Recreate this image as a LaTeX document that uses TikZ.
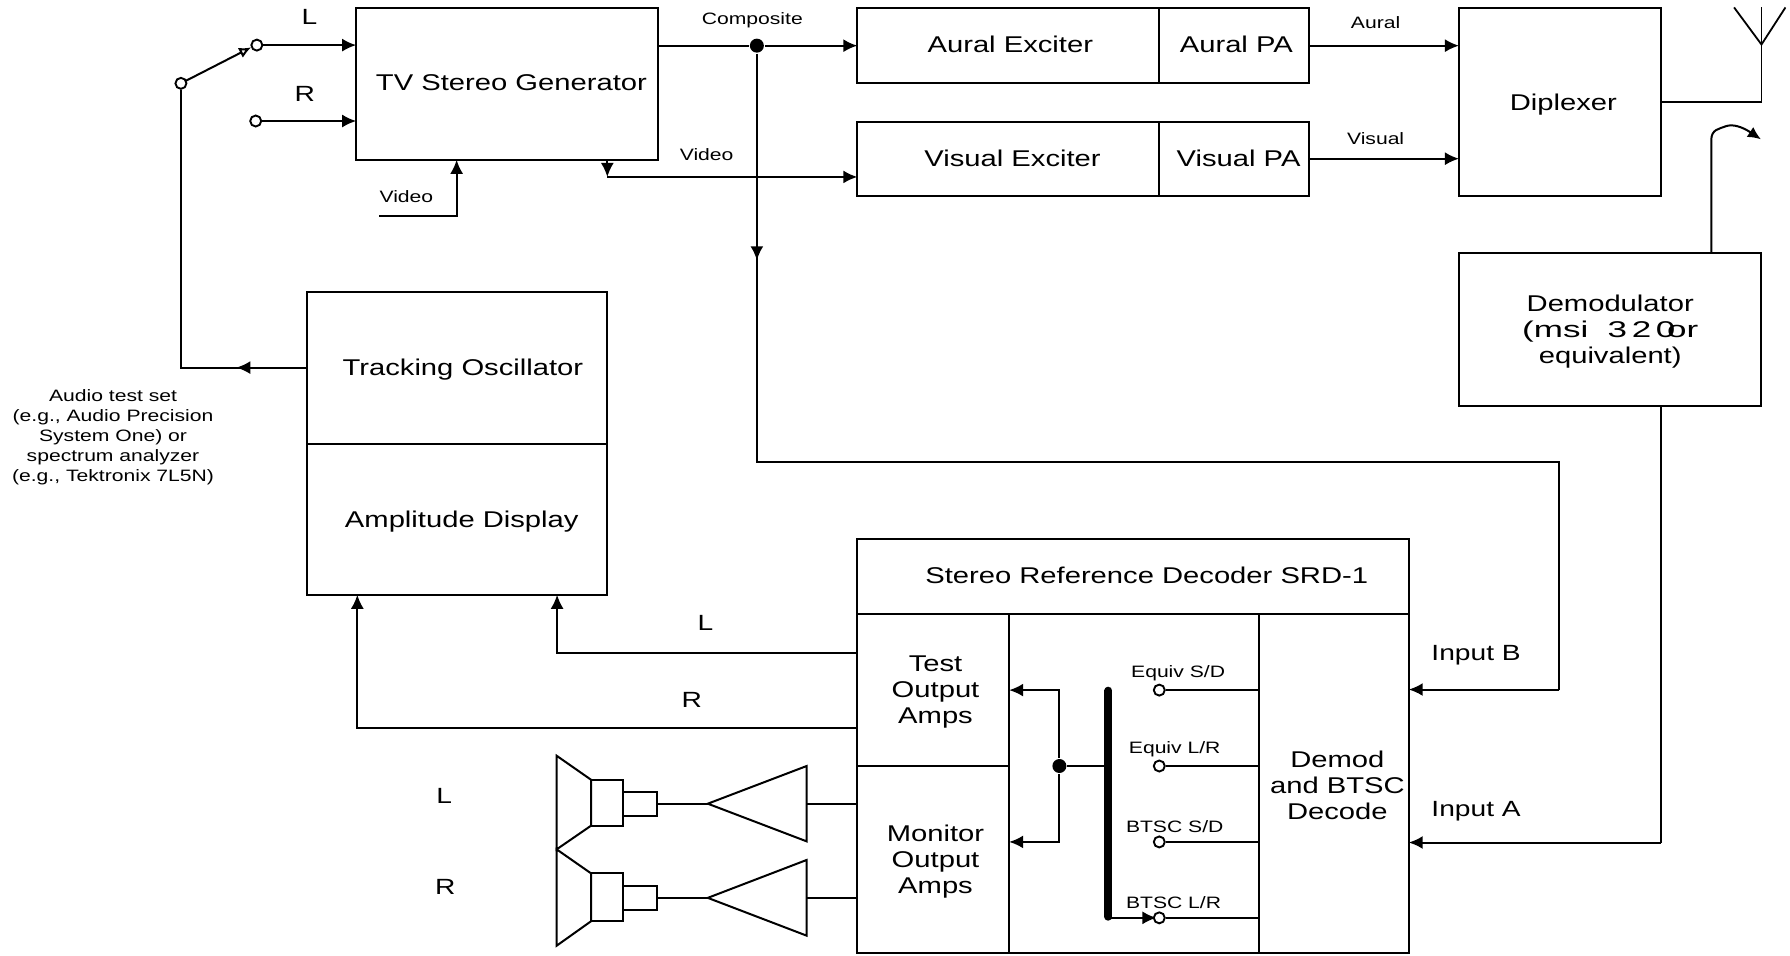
\documentclass[tikz,border=0pt]{standalone}
\usepackage{fontspec}
\setmainfont[FakeStretch=1.28]{Liberation Sans}
\usetikzlibrary{arrows.meta,calc}
\newcommand{\bigt}{\fontsize{22.8}{26}\selectfont}
\newcommand{\inpt}{\fontsize{22}{26}\selectfont}
\newcommand{\sml}{\fontsize{16.5}{20}\selectfont}
% name, x1, y1, x2, y2, dx, dy, text
\newcommand{\blk}[8]{\node[blk,minimum width={(#4-#2)*1.1416},minimum height={(#5-#3)*1.1416},
  label={[align=center,font=\bigt,xshift=#6*1.1416pt,yshift=-#7*1.1416pt]center:{#8}}] (#1) at ({(#2+#4)/2},{(#3+#5)/2}) {};}
\tikzset{
  blk/.style={draw,inner sep=0pt,outer sep=0pt},
  wire/.style={line width=2pt,line join=miter},
  arr/.style={wire,-{Latex[length=14pt,width=13pt]}},
  term/.style={circle,draw,line width=1.9pt,fill=white,minimum size=11pt,inner sep=0pt},
  junction/.style={circle,fill=black,minimum size=14pt,inner sep=0pt},
  lab/.style={font=\sml,inner sep=0pt,align=center},
  biglab/.style={font=\inpt,inner sep=0pt,align=center}
}
\begin{document}
\begin{tikzpicture}[x=1.1416pt,y=-1.1416pt,line width=2pt]
\useasboundingbox (0,0) rectangle (1568,836.6);
% blocks
\blk{tv}{312}{7}{576}{140}{4}{-1}{TV Stereo Generator}
\blk{aex}{751}{7}{1015}{73}{2}{-1}{Aural Exciter}
\blk{apa}{1015}{7}{1147}{73}{2}{-1}{Aural PA}
\blk{vex}{751}{107}{1015}{172}{4}{-0.5}{Visual Exciter}
\blk{vpa}{1015}{107}{1147}{172}{4}{-0.5}{Visual PA}
\blk{dip}{1278}{7}{1455}{172}{3}{2}{Diplexer}
\blk{dem}{1278}{222}{1543}{356}{0}{1.5}{Demodulator\\\scalebox{1.2}[1]{(msi\ \ 3\,2\,0\kern-.3em or}\\equivalent)}
\blk{trk}{269}{256}{532}{389}{5}{1}{Tracking Oscillator}
\blk{amp}{269}{389}{532}{521}{4}{2}{Amplitude Display}
\blk{srd}{751}{472}{1234}{538}{12}{-1}{Stereo Reference Decoder SRD-1}
\blk{tst}{751}{538}{884}{671}{2}{2}{Test\\Output\\Amps}
\blk{mon}{751}{671}{884}{835}{2}{2}{Monitor\\Output\\Amps}
\blk{mid}{884}{538}{1103}{835}{0}{0}{}
\blk{dec}{1103}{538}{1234}{835}{3}{1}{Demod\\and BTSC\\Decode}
% texts
\node[biglab] (tL) at (271,15) {L};
\node[biglab] (tR) at (267,82) {R};
\node[lab] (tComp) at (659,18) {Composite};
\node[lab] (tVid1) at (619,135) {Video};
\node[lab] (tVid2) at (356,172) {Video};
\node[lab] (tAur) at (1205,20) {Aural};
\node[lab] (tVis) at (1205,121) {Visual};
\node[lab] (tAudio) at (99,383) {Audio test set\\(e.g., Audio Precision\\System One) or\\spectrum analyzer\\(e.g., Tektronix 7L5N)};
\node[biglab] (tIB) at (1293,574) {Input B};
\node[biglab] (tIA) at (1293,711) {Input A};
\node[biglab] (tL2) at (618,546) {L};
\node[biglab] (tR2) at (606,613) {R};
\node[biglab] (tL3) at (389,697) {L};
\node[biglab] (tR3) at (390,777) {R};
\node[lab] at (1032,590) (tE1) {Equiv S/D};
\node[lab] at (1029,656) (tE2) {Equiv L/R};
\node[lab] at (1029,724) (tB1) {BTSC S/D};
\node[lab] at (1028,791) (tB2) {BTSC L/R};
% switch
\coordinate (swtip) at (220,41.5);
\coordinate (sw0c) at (158.5,73);
\draw[wire,-{Latex[open,length=12pt,width=11pt,fill=white]}] (sw0c) -- (swtip);
\node[term] (sw0) at (sw0c) {};
\node[term] (swL) at (225,39.5) {};
\node[term] (swR) at (224,106) {};
\draw[arr] (swL) -- (swL -| tv.west);
\draw[arr] (swR) -- (swR -| tv.west);
% video in
\coordinate (vin) at (332,189);
\coordinate (vinc) at (400,189);
\draw[arr] (vin) -- (vinc) -- (vinc |- tv.south);
% composite
\node[junction] (jc) at (663,40) {};
\draw[arr] (tv.east |- jc) -- (jc) -- (jc -| aex.west);
\coordinate (cm) at (663,228);
\coordinate (cm0) at (663,222);
\coordinate (cc) at (663,405);
\coordinate (cr) at (1366,405);
\coordinate (cb) at (1366,604);
\draw[arr] (jc) -- (cm);
\draw[wire] (cm0) -- (cc) -- (cr) -- (cb);
\draw[arr] (cb) -- (cb -| dec.east);
% video out
\coordinate (vo) at (532,155);
\draw[arr] (vo |- tv.south) -- (vo);
\draw[arr] (vo) -- (vo -| vex.west);
% aural / visual
\coordinate (ay) at (1147,40);
\coordinate (vy) at (1147,139);
\draw[arr] (ay) -- (ay -| dip.west);
\draw[arr] (vy) -- (vy -| dip.west);
% antenna tx
\coordinate (an0) at (1543,89);
\coordinate (anb) at (1543,39);
\coordinate (ant) at (1543,6.5);
\coordinate (anl) at (1519,6.5);
\coordinate (anr) at (1564,6.5);
\draw[wire,line width=1.8pt] (dip.east |- an0) -- (an0) -- (ant);
\draw[wire,line width=1.8pt] (anl) -- (anb) -- (anr);
% antenna rx
\coordinate (rx) at (1499,123);
\coordinate (rxt) at (1542.5,122);
\draw[wire,-{Latex[length=13pt,width=12pt]}] (rx |- dem.north) -- (rx) .. controls (1499,113) and (1506,113) .. (1512,110.5) .. controls (1518,108.5) and (1526,111) .. (rxt);
% demod out
\coordinate (da) at (1455,356);
\coordinate (db) at (1455,738);
\draw[wire] (da) -- (db);
\draw[arr] (db) -- (db -| dec.east);
% tracking oscillator
\coordinate (tm) at (207,322);
\coordinate (tm0) at (212,322);
\coordinate (tc) at (158.5,322);
\draw[arr] (trk.west |- tm) -- (tm);
\draw[wire] (tm0) -- (tc) -- (sw0);
% L, R returns
\coordinate (rL) at (488,572);
\coordinate (rR) at (313,638);
\draw[arr] (tst.west |- rL) -- (rL) -- (rL |- amp.south);
\draw[arr] (tst.west |- rR) -- (rR) -- (rR |- amp.south);
% internal
\coordinate (bt) at (971,604);
\coordinate (bb) at (971,804);
\draw[line width=8pt,line cap=round] (971,605) -- (971,803);
\node[junction] (jm) at (928,671) {};
\coordinate (ju) at (928,604.5);
\coordinate (jd) at (928,737.5);
\draw[wire] (jm -| bt) -- (jm);
\draw[arr] (jm) -- (ju) -- (ju -| mid.west);
\draw[arr] (jm) -- (jd) -- (jd -| mid.west);
\draw[arr] (bb) -- (1013,804);
\node[term] (t1) at (1015.5,604.5) {};
\node[term] (t2) at (1015.5,671) {};
\node[term] (t3) at (1015.5,737.5) {};
\node[term] (t4) at (1015.5,804) {};
\draw[wire] (t1) -- (t1 -| dec.west);
\draw[wire] (t2) -- (t2 -| dec.west);
\draw[wire] (t3) -- (t3 -| dec.west);
\draw[wire] (t4) -- (t4 -| dec.west);
% speakers and amps
\coordinate (w1) at (575.7,704);
\coordinate (a1) at (620,704);
\coordinate (o1) at (706.6,704);
\coordinate (w2) at (575.7,786.5);
\coordinate (a2) at (620,786.5);
\coordinate (o2) at (706.6,786.5);
\draw[wire] (487.6,662) -- (517.7,683) -- (517.7,723.3) -- (487.6,744) -- cycle;
\draw[wire] (517.7,683) rectangle (546,723.3);
\draw[wire] (546,693.8) rectangle (575.7,714.8);
\draw[wire] (a1) -- (706.6,671) -- (706.6,737) -- cycle;
\draw[wire] (w1) -- (a1);
\draw[wire] (o1) -- (o1 -| mon.west);
\draw[wire] (487.6,744) -- (517.7,765) -- (517.7,807) -- (487.6,828.4) -- cycle;
\draw[wire] (517.7,765) rectangle (546,807);
\draw[wire] (546,775.8) rectangle (575.7,797);
\draw[wire] (a2) -- (706.6,753.3) -- (706.6,819.6) -- cycle;
\draw[wire] (w2) -- (a2);
\draw[wire] (o2) -- (o2 -| mon.west);
\end{tikzpicture}
\end{document}
